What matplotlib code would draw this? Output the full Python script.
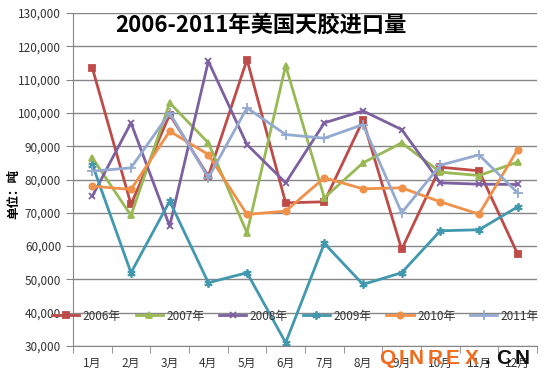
import numpy as np
import matplotlib
matplotlib.use('Agg')
import matplotlib.pyplot as plt
from matplotlib.ticker import FuncFormatter, FixedLocator

plt.rcParams['font.family'] = ['Noto Sans CJK SC', 'DejaVu Sans']

# ===数据
months = ['1月', '2月', '3月', '4月', '5月', '6月', '7月', '8月', '9月', '10月', '11月', '12月']
y2006 = [113500, 72500, 99500, 81000, 116000, 73000, 73300, 97800, 59000, 83700, 82600, 57600]
y2007 = [86500, 69200, 103000, 91000, 64000, 114200, 74500, 85000, 91000, 82200, 81200, 85200]
y2008 = [75000, 97000, 66000, 115500, 90500, 79000, 97000, 100600, 95000, 79000, 78600, 78500]
y2009 = [84500, 52000, 73500, 49000, 52000, 31000, 60800, 48500, 52000, 64600, 64900, 71800]
y2010 = [78000, 77000, 94500, 87500, 69500, 70500, 80500, 77200, 77500, 73300, 69600, 89000]
y2011 = [82500, 83500, 100000, 80500, 101500, 93500, 92400, 96500, 70000, 84300, 87400, 76000]

series = [
    ('2006年', y2006, '#BE4B48', 's', 4.5),
    ('2007年', y2007, '#98B954', '^', 5),
    ('2008年', y2008, '#7D60A0', 'x', 5),
    ('2009年', y2009, '#4198AF', (6, 2, 0), 6),
    ('2010年', y2010, '#F0914A', 'o', 4.5),
    ('2011年', y2011, '#94AAD0', '+', 7),
]

fig = plt.figure(figsize=(5.49, 3.81), dpi=100)
ax = fig.add_axes([73 / 549, 1 - 346 / 381, 464 / 549, 333 / 381])

x = np.arange(len(months))
for name, vals, c, m, ms in series:
    ax.plot(x, vals, color=c, lw=2, marker=m, ms=ms, mew=1.3,
            mfc=c, mec=c, label=name)

ax.set_xlim(-0.5, 11.5)
ax.set_ylim(30000, 130000)
ax.set_yticks(np.arange(30000, 130001, 10000))
ax.yaxis.set_major_formatter(FuncFormatter(lambda v, p: '{:,.0f}'.format(v)))
ax.set_xticks(x)
ax.set_xticklabels(months)
ax.xaxis.set_minor_locator(FixedLocator(np.arange(-0.5, 12, 1)))
ax.tick_params(axis='x', which='major', length=0, pad=8, labelsize=8.5, colors='#333333')
ax.tick_params(axis='x', which='minor', length=5, color='#868686')
ax.tick_params(axis='y', length=5, color='#868686', labelsize=8.5, labelcolor='#333333')
ax.grid(axis='y', color='#868686', lw=1)
ax.set_axisbelow(True)
for s in ['top', 'right']:
    ax.spines[s].set_visible(False)
ax.spines['left'].set_color('#868686')
ax.spines['bottom'].set_color('#868686')

fig.text(0.025, 0.49, '单位：吨', fontsize=9, fontweight='bold', rotation=90,
         ha='center', va='center')

fig.text(0.475, 0.935, '2006-2011年美国天胶进口量', fontsize=16, fontweight='bold',
         ha='center', va='center')

leg = ax.legend(loc='center left', bbox_to_anchor=(-0.045, 0.09), ncol=6, frameon=False,
                fontsize=8.5, handlelength=2.3, handletextpad=0.3, columnspacing=1.25,
                borderaxespad=0, borderpad=0)
for t in leg.get_texts():
    t.set_color('#333333')

# 水印 QINREX.CN
wm_chars = ['Q', 'I', 'N', 'R', 'E', 'X', '.', 'C', 'N']
wm_x = [387, 402, 416, 435, 453, 472, 487, 504, 522]
for ch, px in zip(wm_chars, wm_x):
    col = '#F26B1D' if px < 480 else '#111111'
    fig.text(px / 549, 1 - 359 / 381, ch, fontsize=15, fontweight='bold', color=col,
             ha='center', va='center', family='Liberation Sans')

fig.savefig('out.png', dpi=100)
